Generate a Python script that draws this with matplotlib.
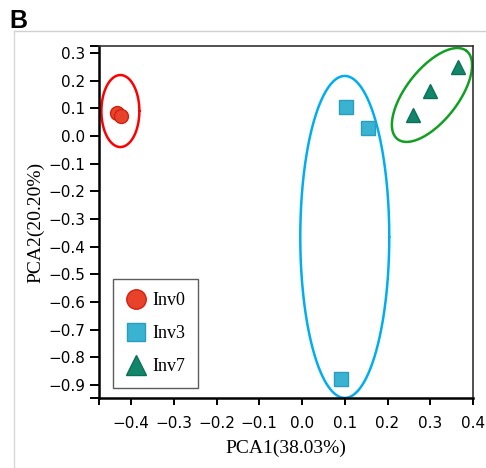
import numpy as np
import matplotlib
matplotlib.use("Agg")
import matplotlib.pyplot as plt
from matplotlib.lines import Line2D

# ---- data ----
groups = ["Inv0", "Inv3", "Inv7"]
inv0_x = [-0.433, -0.423]
inv0_y = [0.082, 0.071]
inv3_x = [0.103, 0.155, 0.091]
inv3_y = [0.105, 0.029, -0.877]
inv7_x = [0.260, 0.300, 0.365]
inv7_y = [0.076, 0.162, 0.249]

xticks = [-0.4, -0.3, -0.2, -0.1, 0.0, 0.1, 0.2, 0.3, 0.4]
yticks = [0.3, 0.2, 0.1, 0.0, -0.1, -0.2, -0.3, -0.4, -0.5, -0.6, -0.7, -0.8, -0.9]
xlim = (-0.475, 0.40)
ylim = (-0.947, 0.325)

# ellipse definitions (center x, center y, semi-axis a px, semi-axis b px, angle deg)
ell_inv0 = (-0.425, 0.090, 19, 36, 0)
ell_inv3 = (0.100, -0.365, 44.5, 161, 0)
ell_inv7 = (0.304, 0.148, 56, 26, 52)

fig = plt.figure(figsize=(4.86, 4.68), dpi=100)
ax = fig.add_axes([99/486, 1 - 398/468, (473-99)/486, (398-46)/468])
ax.set_xlim(*xlim)
ax.set_ylim(*ylim)

# px per data unit
sx = (473 - 99) / (xlim[1] - xlim[0])
sy = (398 - 46) / (ylim[1] - ylim[0])

def ellipse(ax, e, color):
    cx, cy, a, b, ang = e
    t = np.linspace(0, 2*np.pi, 721)
    th = np.deg2rad(ang)
    px = a*np.cos(t)*np.cos(th) - b*np.sin(t)*np.sin(th)
    py = a*np.cos(t)*np.sin(th) + b*np.sin(t)*np.cos(th)
    ax.plot(cx + px/sx, cy + py/sy, color=color, lw=1.8, zorder=2, clip_on=False,
            solid_joinstyle='round', solid_capstyle='round')

ellipse(ax, ell_inv0, "#ff0000")
ellipse(ax, ell_inv3, "#00aeef")
ellipse(ax, ell_inv7, "#11a022")

c0, e0 = "#e8432a", "#d42010"
c3, e3 = "#3ab2d2", "#2a9ec0"
c7, e7 = "#12866a", "#0c7058"
ax.plot(inv0_x, inv0_y, 'o', ms=10, mfc=c0, mec=e0, mew=1, ls='none', zorder=3)
ax.plot(inv3_x, inv3_y, 's', ms=9.5, mfc=c3, mec=e3, mew=1, ls='none', zorder=3)
ax.plot(inv7_x, inv7_y, '^', ms=10, mfc=c7, mec=e7, mew=1, ls='none', zorder=3)

ax.set_xticks(xticks)
ax.set_yticks(yticks)
ax.set_xticklabels([f"{v:.1f}".replace("-", "\u2212") for v in xticks])
ax.set_yticklabels([f"{v:.1f}".replace("-", "\u2212") for v in yticks])
ax.set_xticks([xlim[0]], minor=True)
ax.set_yticks([ylim[0], ylim[1]], minor=True)
ax.tick_params(which='both', direction='out', width=1.4, labelsize=11, color='black')
ax.tick_params(axis='x', which='both', length=5, pad=8)
ax.tick_params(axis='y', which='both', length=6.5, pad=3.5)

for s in ['left', 'bottom']:
    ax.spines[s].set_linewidth(1.8)
    ax.spines[s].set_color('black')
for s in ['top', 'right']:
    ax.spines[s].set_linewidth(1.2)
    ax.spines[s].set_color('#333333')

ax.set_xlabel("PCA1(38.03%)", fontfamily="Liberation Serif", fontsize=14, labelpad=6)
ax.set_ylabel("PCA2(20.20%)", fontfamily="Liberation Serif", fontsize=14, labelpad=3)

handles = [
    Line2D([], [], marker='o', ls='none', ms=14, mfc=c0, mec=e0, label=groups[0]),
    Line2D([], [], marker='s', ls='none', ms=13, mfc=c3, mec=e3, label=groups[1]),
    Line2D([], [], marker='^', ls='none', ms=14, mfc=c7, mec=e7, label=groups[2]),
]
leg = ax.legend(handles=handles, loc='lower left', bbox_to_anchor=((113-99)/374, (398-388)/352),
                prop={'family': 'Liberation Serif', 'size': 13}, frameon=True, fancybox=False,
                edgecolor='#333333', handlelength=1.1, handletextpad=0.4, labelspacing=0.9,
                borderpad=0.7, borderaxespad=0)
leg.get_frame().set_linewidth(1.0)

# figure frame lines (top and left, light gray)
fig.add_artist(Line2D([14/486, 1], [1-31/468, 1-31/468], color='#d0d0d0', lw=1, transform=fig.transFigure))
fig.add_artist(Line2D([14/486, 14/486], [0, 1-31/468], color='#d8d8d8', lw=1, transform=fig.transFigure))

fig.text(9/486, 1 - 9/468, "B", fontsize=18, fontweight='bold', fontfamily='Liberation Sans', va='top', ha='left')

fig.savefig("out.png", dpi=100)
